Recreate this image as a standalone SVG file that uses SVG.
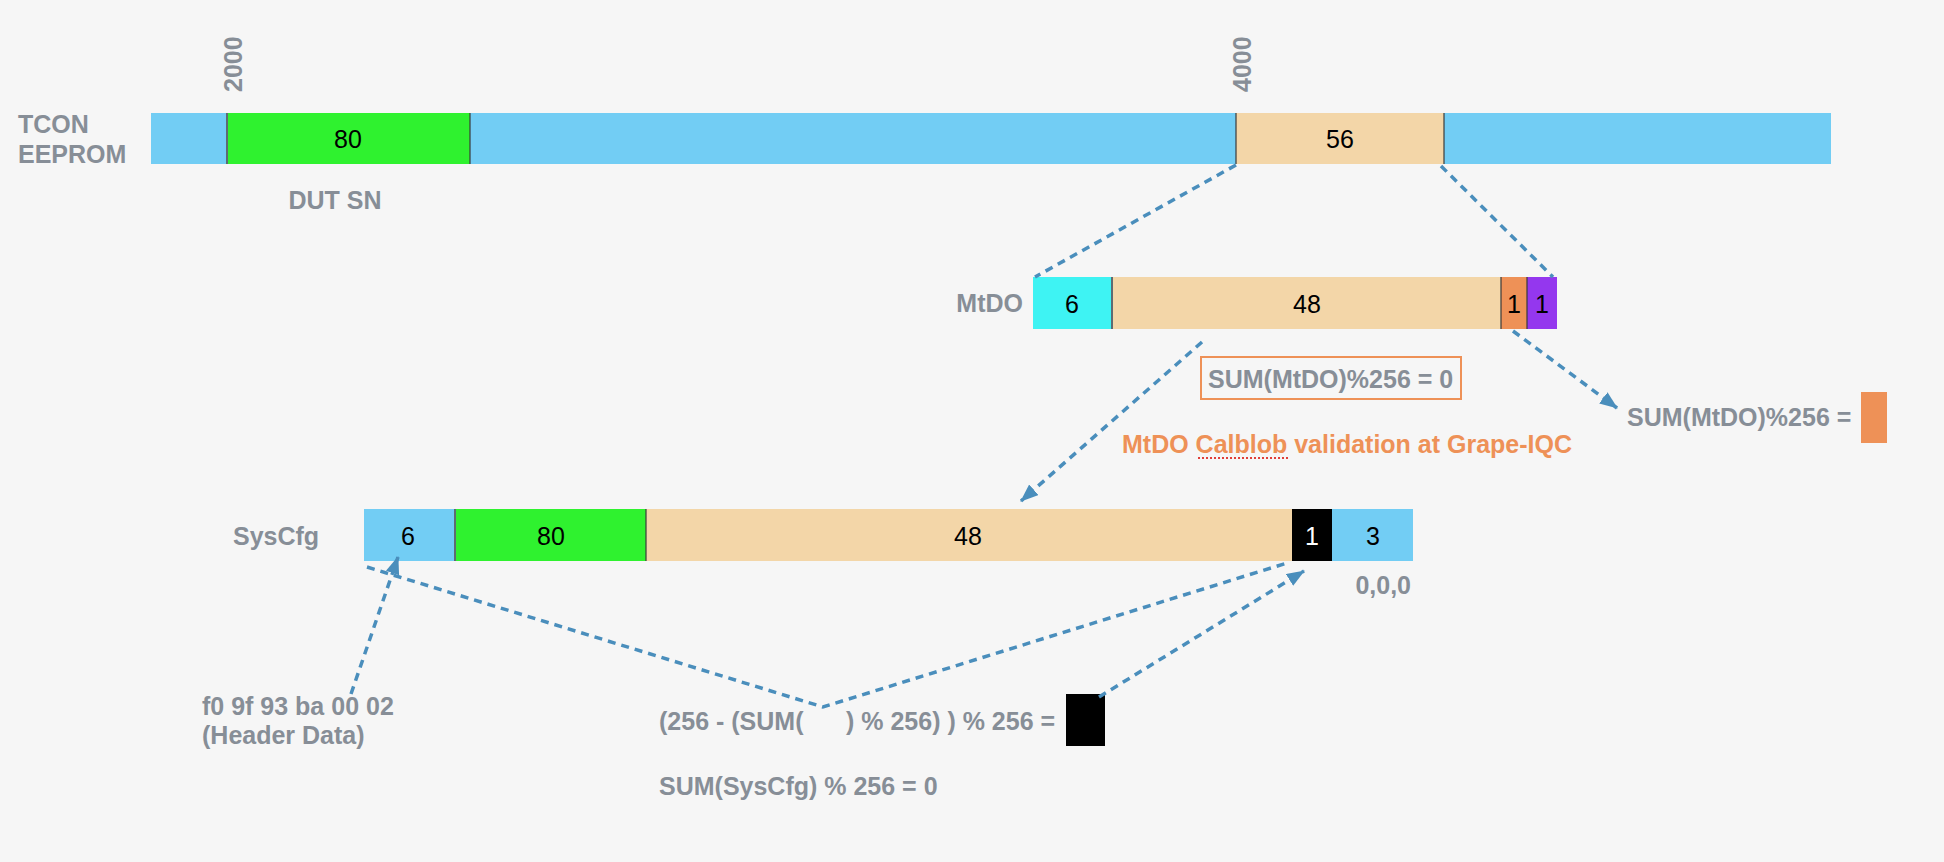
<svg xmlns="http://www.w3.org/2000/svg" width="1944" height="862" viewBox="0 0 1944 862">
<defs>
<marker id="arr" markerUnits="userSpaceOnUse" markerWidth="20" markerHeight="16" refX="17" refY="7" orient="auto">
<path d="M0,0 L18,7 L0,14 z" fill="#4A8EBC"/>
</marker>
<style>
.lbl{font-family:"Liberation Sans",Arial,sans-serif;font-weight:bold;font-size:25px;fill:#878E97}
.num{font-family:"Liberation Sans",Arial,sans-serif;font-size:25px;fill:#000;text-anchor:middle}
.org{font-family:"Liberation Sans",Arial,sans-serif;font-weight:bold;font-size:25px;fill:#EE9157}
.blue{fill:#72CDF4}
.green{fill:#2FF22F}
.peach{fill:#F3D6A8}
.div{stroke:#3A3A3A;stroke-width:1.2}
.divg{stroke:#5F6B72;stroke-width:2}
.conn{fill:none;stroke:#4A8EBC;stroke-width:3.5;stroke-dasharray:8 6}
</style>
</defs>
<rect x="0" y="0" width="1944" height="862" fill="#F6F6F6"/>

<g id="tcon">
<text class="lbl" x="18" y="133">TCON</text>
<text class="lbl" x="18" y="163">EEPROM</text>
<rect class="blue" x="151" y="113" width="1680" height="51"/>
<rect class="green" x="227" y="113" width="243" height="51"/>
<rect class="peach" x="1236" y="113" width="208" height="51"/>
<line class="divg" x1="227" y1="113" x2="227" y2="164"/>
<line class="div" x1="470" y1="113" x2="470" y2="164"/>
<line class="div" x1="1236" y1="113" x2="1236" y2="164"/>
<line class="div" x1="1444" y1="113" x2="1444" y2="164"/>
<text class="num" x="348" y="148">80</text>
<text class="num" x="1340" y="148">56</text>
<text class="lbl" transform="translate(242,92) rotate(-90)">2000</text>
<text class="lbl" transform="translate(1251,92) rotate(-90)">4000</text>
<text class="lbl" x="335" y="209" text-anchor="middle">DUT SN</text>
</g>

<g id="mtdo">
<text class="lbl" x="1023" y="312" text-anchor="end">MtDO</text>
<rect x="1033" y="277" width="79" height="52" fill="#3EF3F3"/>
<rect class="peach" x="1112" y="277" width="389" height="52"/>
<rect x="1501" y="277" width="26" height="52" fill="#EE9157"/>
<rect x="1527" y="277" width="30" height="52" fill="#9437EE"/>
<line class="divg" x1="1112" y1="277" x2="1112" y2="329"/>
<line class="div" x1="1501" y1="277" x2="1501" y2="329"/>
<line class="div" x1="1527" y1="277" x2="1527" y2="329"/>
<text class="num" x="1072" y="313">6</text>
<text class="num" x="1307" y="313">48</text>
<text class="num" x="1514" y="313">1</text>
<text class="num" x="1542" y="313">1</text>
</g>

<g id="mtdo-check">
<rect x="1201" y="357" width="260" height="42" fill="none" stroke="#EE9157" stroke-width="2"/>
<text class="lbl" x="1208" y="388">SUM(MtDO)%256 = 0</text>
</g>

<g id="mtdo-note">
<text class="org" x="1122" y="453">MtDO Calblob validation at Grape-IQC</text>
<line x1="1198" y1="458" x2="1288" y2="458" stroke="#E0403A" stroke-width="2" stroke-dasharray="2 2"/>
</g>

<g id="mtdo-sum">
<text class="lbl" x="1627" y="426">SUM(MtDO)%256 =</text>
<rect x="1861" y="392" width="26" height="51" fill="#EE9157"/>
</g>

<g id="syscfg">
<text class="lbl" x="233" y="545">SysCfg</text>
<rect class="blue" x="364" y="509" width="91" height="52"/>
<rect class="green" x="455" y="509" width="191" height="52"/>
<rect class="peach" x="646" y="509" width="646" height="52"/>
<rect x="1292" y="509" width="40" height="52" fill="#000"/>
<rect class="blue" x="1332" y="509" width="81" height="52"/>
<line class="divg" x1="455" y1="509" x2="455" y2="561"/>
<line class="div" x1="646" y1="509" x2="646" y2="561"/>
<text class="num" x="408" y="545">6</text>
<text class="num" x="551" y="545">80</text>
<text class="num" x="968" y="545">48</text>
<text class="num" x="1312" y="545" fill="#fff" style="fill:#fff">1</text>
<text class="num" x="1373" y="545">3</text>
<text class="lbl" x="1411" y="594" text-anchor="end">0,0,0</text>
</g>

<g id="header">
<text class="lbl" x="202" y="715">f0 9f 93 ba 00 02</text>
<text class="lbl" x="202" y="744">(Header Data)</text>
</g>

<g id="checksum">
<text class="lbl" x="659" y="730">(256 - (SUM(<tspan x="846">) % 256) ) % 256 =</tspan></text>
<rect x="1066" y="694" width="39" height="52" fill="#000"/>
<text class="lbl" x="659" y="795">SUM(SysCfg) % 256 = 0</text>
</g>

<g id="connectors">
<line class="conn" x1="1236" y1="165" x2="1035" y2="277"/>
<line class="conn" x1="1441" y1="166" x2="1553" y2="277"/>
<line class="conn" x1="1202" y1="342" x2="1021" y2="501" marker-end="url(#arr)"/>
<line class="conn" x1="1513" y1="331" x2="1617" y2="408" marker-end="url(#arr)"/>
<polyline class="conn" points="367,567 823,707 1287,563"/>
<line class="conn" x1="351" y1="694" x2="398" y2="557" marker-end="url(#arr)"/>
<line class="conn" x1="1099" y1="697" x2="1304" y2="571" marker-end="url(#arr)"/>
</g>
</svg>
